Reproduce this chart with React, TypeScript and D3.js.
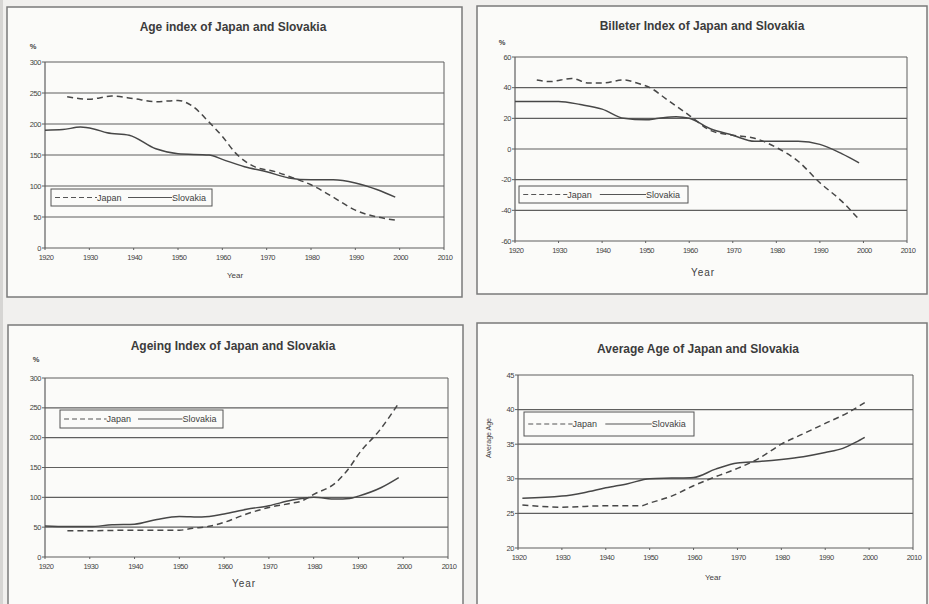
import React from "react";
import * as d3 from "d3";

// values, [year, value]
const ageIndexJapan = [
  [1925, 244], [1930, 240], [1935, 245], [1940, 241], [1945, 236], [1950, 238],
  [1953, 230], [1957, 203], [1960, 180], [1963, 153], [1967, 132], [1972, 123],
  [1976, 113], [1980, 102], [1985, 82], [1990, 61], [1995, 50], [1999, 45],
];
const ageIndexSlovakia = [
  [1920, 190], [1924, 191], [1928, 195], [1931, 192], [1934, 186], [1939, 182],
  [1945, 160], [1950, 152], [1957, 150], [1960, 143], [1965, 131], [1970, 123],
  [1975, 113], [1980, 110], [1985, 110], [1990, 105], [1995, 94], [1999, 82],
];

const billeterJapan = [
  [1925, 45], [1928, 44], [1933, 46], [1937, 43], [1940, 43], [1945, 45],
  [1948, 43], [1951, 40], [1955, 32], [1960, 22], [1965, 12], [1970, 9],
  [1975, 7], [1980, 1], [1985, -8], [1990, -22], [1995, -34], [1999, -46],
];
const billeterSlovakia = [
  [1920, 31], [1925, 31], [1930, 31], [1935, 29], [1940, 26], [1945, 20],
  [1950, 19], [1953, 20], [1957, 21], [1960, 20], [1965, 13], [1970, 9],
  [1975, 5], [1980, 5], [1985, 5], [1990, 3], [1995, -3], [1999, -9],
];

const ageingJapan = [
  [1925, 44], [1930, 44], [1940, 45], [1950, 45], [1953, 48], [1957, 52],
  [1960, 58], [1965, 72], [1970, 83], [1975, 90], [1977, 93], [1980, 105],
  [1985, 125], [1988, 150], [1990, 172], [1995, 215], [1999, 258],
];
const ageingSlovakia = [
  [1920, 52], [1925, 51], [1930, 51], [1935, 54], [1940, 55], [1945, 63],
  [1950, 68], [1955, 67], [1960, 72], [1965, 80], [1970, 86], [1975, 95],
  [1980, 100], [1985, 97], [1988, 98], [1990, 102], [1995, 116], [1999, 133],
];

const avgAgeJapan = [
  [1921, 26.2], [1930, 25.9], [1940, 26.1], [1948, 26.1], [1950, 26.5],
  [1955, 27.5], [1960, 29], [1965, 30.3], [1970, 31.5], [1975, 33],
  [1980, 35], [1985, 36.5], [1990, 38], [1995, 39.5], [1999, 41],
];
const avgAgeSlovakia = [
  [1921, 27.2], [1930, 27.5], [1935, 28], [1940, 28.7], [1945, 29.3],
  [1950, 30], [1955, 30.1], [1960, 30.2], [1965, 31.4], [1970, 32.3],
  [1975, 32.5], [1980, 32.8], [1985, 33.2], [1990, 33.8], [1994, 34.4],
  [1997, 35.3], [1999, 36],
];

const yearTicks = [1920, 1930, 1940, 1950, 1960, 1970, 1980, 1990, 2000, 2010];

const panels = [
  {
    title: "Age index of Japan and Slovakia",
    box: [7, 7, 455, 290], plot: [45, 62, 444, 248],
    domain: [0, 300], step: 50, unit: "%", unitPos: [33, 49],
    titlePos: [233, 31], yearPos: [235, 278], yearSize: 8,
    legend: [51, 189, 161, 17],
    japan: ageIndexJapan, slovakia: ageIndexSlovakia,
  },
  {
    title: "Billeter Index of Japan and Slovakia",
    box: [477, 6, 450, 288], plot: [515, 57, 907, 241],
    domain: [-60, 60], step: 20, unit: "%", unitPos: [502, 45],
    titlePos: [702, 30], yearPos: [703, 276], yearSize: 10,
    legend: [519, 186, 169, 17],
    japan: billeterJapan, slovakia: billeterSlovakia,
  },
  {
    title: "Ageing Index of Japan and Slovakia",
    box: [8, 325, 455, 285], plot: [45, 378, 448, 557],
    domain: [0, 300], step: 50, unit: "%", unitPos: [36, 362],
    titlePos: [233, 350], yearPos: [244, 587], yearSize: 10,
    legend: [60, 410, 163, 18],
    japan: ageingJapan, slovakia: ageingSlovakia,
  },
  {
    title: "Average Age of Japan and Slovakia",
    box: [477, 323, 450, 285], plot: [518, 375, 913, 548],
    domain: [20, 45], step: 5, unit: "Average Age", unitPos: [491, 438],
    titlePos: [698, 353], yearPos: [713, 580], yearSize: 8,
    legend: [524, 412, 170, 24],
    japan: avgAgeJapan, slovakia: avgAgeSlovakia,
  },
];

const ink = "#3f3f3f";
const grid = "#5f5f5f";

const Panel = ({ p }: { p: any }) => {
  const [bx, by, bw, bh] = p.box;
  const [px0, py0, px1, py1] = p.plot;
  const x = d3.scaleLinear().domain([1920, 2010]).range([px0, px1]);
  const y = d3.scaleLinear().domain(p.domain).range([py1, py0]);
  const yTicks = d3.range(p.domain[0], p.domain[1] + p.step / 2, p.step);
  const line = d3
    .line<number[]>()
    .x((d) => x(d[0]))
    .y((d) => y(d[1]))
    .curve(d3.curveMonotoneX);
  const [lx, ly, lw, lh] = p.legend;
  const k = lw / 161;
  const lmid = ly + lh / 2;

  return (
    <g>
      <rect x={bx} y={by} width={bw} height={bh} fill="#fbfbf9" stroke="#7a7a7a" strokeWidth={1.5} />
      <text x={p.titlePos[0]} y={p.titlePos[1]} textAnchor="middle" fontSize={12} fontWeight="bold" fill="#3c3c3c">
        {p.title}
      </text>
      {p.unit === "%" ? (
        <text x={p.unitPos[0]} y={p.unitPos[1]} fontSize={7.5} fontWeight="bold" fill={ink} textAnchor="middle">%</text>
      ) : (
        <text
          transform={`translate(${p.unitPos[0]},${p.unitPos[1]}) rotate(-90)`}
          fontSize={7}
          fill={ink}
          textAnchor="middle"
        >
          {p.unit}
        </text>
      )}
      {/* gridlines and y axis labels */}
      {yTicks.map((t: number) => (
        <g key={t}>
          <line x1={px0} x2={px1} y1={y(t)} y2={y(t)} stroke={grid} strokeWidth={1.2} />
          <line x1={px0 - 3} x2={px0} y1={y(t)} y2={y(t)} stroke={grid} strokeWidth={1} />
          <text x={px0 - 4} y={y(t) + 2.5} textAnchor="end" fontSize={7.5} fill={ink} letterSpacing={-0.4}>
            {t}
          </text>
        </g>
      ))}
      <line x1={px0} x2={px0} y1={py0} y2={py1} stroke={grid} strokeWidth={1.2} />
      <line x1={px1} x2={px1} y1={py0} y2={py1} stroke={grid} strokeWidth={1} />
      {yearTicks.map((t) => (
        <g key={t}>
          <line x1={x(t)} x2={x(t)} y1={py1} y2={py1 + 2} stroke={grid} />
          <text x={x(t) + 1} y={py1 + 12} textAnchor="middle" fontSize={7.5} fill={ink} letterSpacing={-0.5}>
            {t}
          </text>
        </g>
      ))}
      <text x={p.yearPos[0]} y={p.yearPos[1]} textAnchor="middle" fontSize={p.yearSize} fill={ink} letterSpacing={p.yearSize > 8 ? 1 : 0}>
        Year
      </text>
      <path d={line(p.slovakia) || ""} fill="none" stroke="#474747" strokeWidth={1.5} />
      <path d={line(p.japan) || ""} fill="none" stroke="#474747" strokeWidth={1.5} strokeDasharray="6,4" />
      {/* legend */}
      <rect x={lx} y={ly} width={lw} height={lh} fill="#fbfbf9" stroke="#555" strokeWidth={1} />
      <line x1={lx + 4 * k} x2={lx + 46 * k} y1={lmid} y2={lmid} stroke="#555" strokeWidth={1.2} strokeDasharray="5,3" />
      <text x={lx + 46 * k} y={lmid + 3} fontSize={9} fill={ink}>Japan</text>
      <line x1={lx + 77 * k} x2={lx + 121 * k} y1={lmid} y2={lmid} stroke="#555" strokeWidth={1.2} />
      <text x={lx + 121 * k} y={lmid + 3} fontSize={9} fill={ink}>Slovakia</text>
    </g>
  );
};

export default function App() {
  return (
    <div style={{ position: "absolute", left: 0, top: 0 }}>
      <svg width={929} height={604} style={{ display: "block", fontFamily: "'Liberation Sans', Arial, sans-serif" }}>
        <rect width={929} height={604} fill="#f1f0ee" />
        <rect width={3} height={604} fill="#d6d5d3" />
        {panels.map((p) => (
          <Panel key={p.title} p={p} />
        ))}
      </svg>
    </div>
  );
}
